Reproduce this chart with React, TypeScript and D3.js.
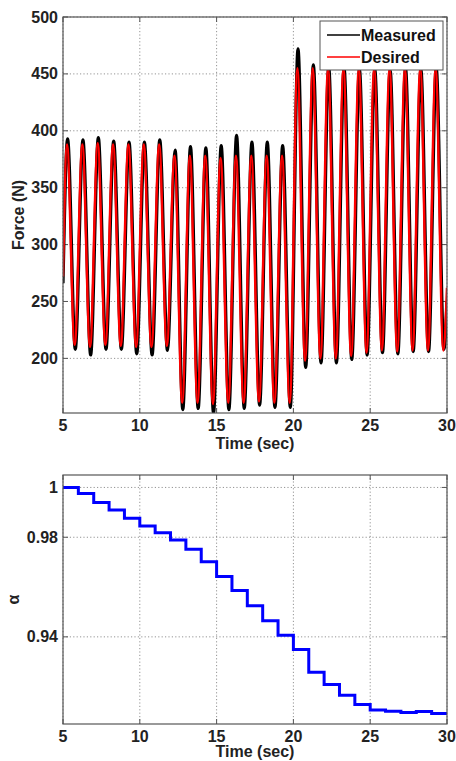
import React from "react";
import * as d3 from "d3";

// ---- Force plot data (peaks/troughs) ----
const desiredTimes = [
  5.0, 5.26, 5.76, 6.26, 6.76, 7.26, 7.76, 8.26, 8.76, 9.26, 9.76, 10.26, 10.76, 11.26, 11.76,
  12.26, 12.76, 13.26, 13.76, 14.26, 14.76, 15.26, 15.76, 16.26, 16.76, 17.26, 17.76, 18.26, 18.76,
  19.26, 19.76, 20.26, 20.76, 21.26, 21.76, 22.26, 22.76, 23.26, 23.76, 24.26, 24.76, 25.26, 25.76,
  26.26, 26.76, 27.26, 27.76, 28.26, 28.76, 29.26, 29.76, 30.0,
];
const desiredForce = [
  272, 388, 212, 388, 210, 389, 212, 388, 211, 388, 210, 388, 210, 388, 211,
  378, 161, 378, 161, 378, 160, 376, 161, 378, 161, 378, 162, 378, 161,
  378, 161, 455, 198, 455, 200, 455, 200, 455, 202, 455, 205, 455, 207,
  455, 206, 455, 207, 455, 207, 455, 207, 262,
];
const measuredTimes = [
  5.0, 5.3, 5.8, 6.3, 6.8, 7.3, 7.8, 8.3, 8.8, 9.3, 9.8, 10.3, 10.8, 11.3, 11.8,
  12.3, 12.8, 13.3, 13.8, 14.3, 14.8, 15.3, 15.8, 16.3, 16.8, 17.3, 17.8, 18.3, 18.8,
  19.3, 19.8, 20.3, 20.8, 21.3, 21.8, 22.3, 22.8, 23.3, 23.8, 24.3, 24.8, 25.3, 25.8,
  26.3, 26.8, 27.3, 27.8, 28.3, 28.8, 29.3, 29.8, 30.0,
];
const measuredForce = [
  266, 393, 208, 392, 203, 394, 208, 391, 208, 390, 204, 390, 203, 392, 207,
  383, 155, 386, 156, 385, 152, 387, 155, 396, 156, 390, 159, 390, 157,
  387, 157, 472, 192, 458, 196, 456, 196, 455, 199, 454, 203, 454, 205,
  453, 204, 455, 206, 454, 206, 455, 208, 250,
];
const forceTicks = [200, 250, 300, 350, 400, 450, 500];
const timeTicks = [5, 10, 15, 20, 25, 30];

// ---- Alpha plot data ----
const alphaTimes = [
  5, 6, 7, 8, 9, 10, 11, 12, 13, 14, 15, 16, 17, 18, 19, 20, 21, 22, 23, 24, 25, 26, 27, 28, 29, 30,
];
const alphaValues = [
  1.0, 0.9976, 0.994, 0.9909, 0.9876, 0.9845, 0.9818, 0.9789, 0.9752, 0.9702, 0.9642, 0.9586,
  0.9525, 0.9465, 0.9406, 0.9349, 0.9258, 0.9209, 0.9165, 0.9128, 0.9106, 0.9101, 0.9096, 0.91,
  0.9092, 0.9092,
];
const alphaTicks = [0.94, 0.98, 1];
const alphaTickLabels = ["0.94", "0.98", "1"];

const FONT = "'Liberation Sans', Arial, Helvetica, sans-serif";
const AXIS = "#555";
const GRID = "#888";

type Pt = [number, number];

function Axes({
  x, y, xTicks, yTicks, yLabels, xTitle, yTitle, yTitleX, xTitleDy,
}: {
  x: d3.ScaleLinear<number, number>;
  y: d3.ScaleLinear<number, number>;
  xTicks: number[];
  yTicks: number[];
  yLabels: string[];
  xTitle: string;
  yTitle: string;
  yTitleX: number;
  xTitleDy: number;
}) {
  const [x0, x1] = x.range();
  const [y0, y1] = y.range(); // y0 bottom, y1 top
  const tl = 5;
  return (
    <g fontFamily={FONT} fontWeight="bold" fontSize={16} fill="#222">
      {/* grid */}
      {xTicks.map((t) => (
        <line key={"gx" + t} x1={x(t)} x2={x(t)} y1={y0} y2={y1} stroke={GRID} strokeWidth={0.9} strokeDasharray="1.2,2.2" />
      ))}
      {yTicks.map((t) => (
        <line key={"gy" + t} x1={x0} x2={x1} y1={y(t)} y2={y(t)} stroke={GRID} strokeWidth={0.9} strokeDasharray="1.2,2.2" />
      ))}
      {/* ticks */}
      {xTicks.map((t) => (
        <g key={"tx" + t}>
          <line x1={x(t)} x2={x(t)} y1={y0} y2={y0 - tl} stroke={AXIS} />
          <line x1={x(t)} x2={x(t)} y1={y1} y2={y1 + tl} stroke={AXIS} />
          <text x={x(t)} y={y0 + 18} textAnchor="middle">{t}</text>
        </g>
      ))}
      {yTicks.map((t, i) => (
        <g key={"ty" + t}>
          <line x1={x0} x2={x0 + tl} y1={y(t)} y2={y(t)} stroke={AXIS} />
          <line x1={x1} x2={x1 - tl} y1={y(t)} y2={y(t)} stroke={AXIS} />
          <text x={x0 - 5} y={y(t) + 5.5} textAnchor="end">{yLabels[i]}</text>
        </g>
      ))}
      <text x={(x0 + x1) / 2} y={y0 + xTitleDy} textAnchor="middle">{xTitle}</text>
      <text
        transform={`translate(${yTitleX},${(y0 + y1) / 2}) rotate(-90)`}
        textAnchor="middle"
        dominantBaseline="middle"
      >
        {yTitle}
      </text>
    </g>
  );
}

export default function App() {
  const left = 63;
  const right = 447;

  // top plot
  const xTop = d3.scaleLinear().domain([5, 30]).range([left, right]);
  const yTop = d3.scaleLinear().domain([152, 500]).range([413, 17]);
  const forceLine = d3
    .line<Pt>()
    .x((d) => xTop(d[0]))
    .y((d) => yTop(d[1]))
    .curve(d3.curveMonotoneX);
  const measuredPts: Pt[] = measuredTimes.map((t, i) => [t, measuredForce[i]]);
  const desiredPts: Pt[] = desiredTimes.map((t, i) => [t, desiredForce[i]]);

  // bottom plot
  const xBot = d3.scaleLinear().domain([5, 30]).range([left, right]);
  const yBot = d3.scaleLinear().domain([0.905, 1.005]).range([724, 475]);
  const alphaLine = d3
    .line<Pt>()
    .x((d) => xBot(d[0]))
    .y((d) => yBot(d[1]))
    .curve(d3.curveStepAfter);
  const alphaPts: Pt[] = alphaTimes.map((t, i) => [t, alphaValues[i]]);

  const legX = 320;
  const legY = 21;

  return (
    <svg
      width={456}
      height={761}
      style={{ position: "absolute", left: 0, top: 0, background: "#fff" }}
    >
      <rect x={0} y={0} width={456} height={761} fill="#fff" />
      <defs>
        <clipPath id="clipTop">
          <rect x={left} y={17} width={right - left} height={413 - 17} />
        </clipPath>
        <clipPath id="clipBot">
          <rect x={left} y={475} width={right - left} height={724 - 475} />
        </clipPath>
      </defs>

      {/* Top plot */}
      <Axes
        x={xTop}
        y={yTop}
        xTicks={timeTicks}
        yTicks={forceTicks}
        yLabels={forceTicks.map(String)}
        xTitle="Time (sec)"
        yTitle="Force (N)"
        yTitleX={20}
        xTitleDy={36}
      />
      <g clipPath="url(#clipTop)">
        <path d={forceLine(measuredPts) || ""} fill="none" stroke="#000" strokeWidth={3.2} />
        <path d={forceLine(desiredPts) || ""} fill="none" stroke="#ff0000" strokeWidth={2.5} />
      </g>
      <rect x={left} y={17} width={right - left} height={413 - 17} fill="none" stroke={AXIS} strokeWidth={1.2} />

      {/* Legend */}
      <g fontFamily={FONT} fontWeight="bold" fontSize={16} fill="#111">
        <rect x={legX} y={legY} width={123} height={49} fill="#fff" stroke={AXIS} strokeWidth={1} />
        <line x1={legX + 7} x2={legX + 40} y1={legY + 14} y2={legY + 14} stroke="#000" strokeWidth={1.5} />
        <text x={legX + 41} y={legY + 19.5}>Measured</text>
        <line x1={legX + 7} x2={legX + 40} y1={legY + 36} y2={legY + 36} stroke="#ff0000" strokeWidth={1.5} />
        <text x={legX + 41} y={legY + 41.5}>Desired</text>
      </g>

      {/* Bottom plot */}
      <Axes
        x={xBot}
        y={yBot}
        xTicks={timeTicks}
        yTicks={alphaTicks}
        yLabels={alphaTickLabels}
        xTitle="Time (sec)"
        yTitle="α"
        yTitleX={15}
        xTitleDy={33}
      />
      <g clipPath="url(#clipBot)">
        <path d={alphaLine(alphaPts) || ""} fill="none" stroke="#0000ff" strokeWidth={3} />
      </g>
      <rect x={left} y={475} width={right - left} height={724 - 475} fill="none" stroke={AXIS} strokeWidth={1.2} />
    </svg>
  );
}
